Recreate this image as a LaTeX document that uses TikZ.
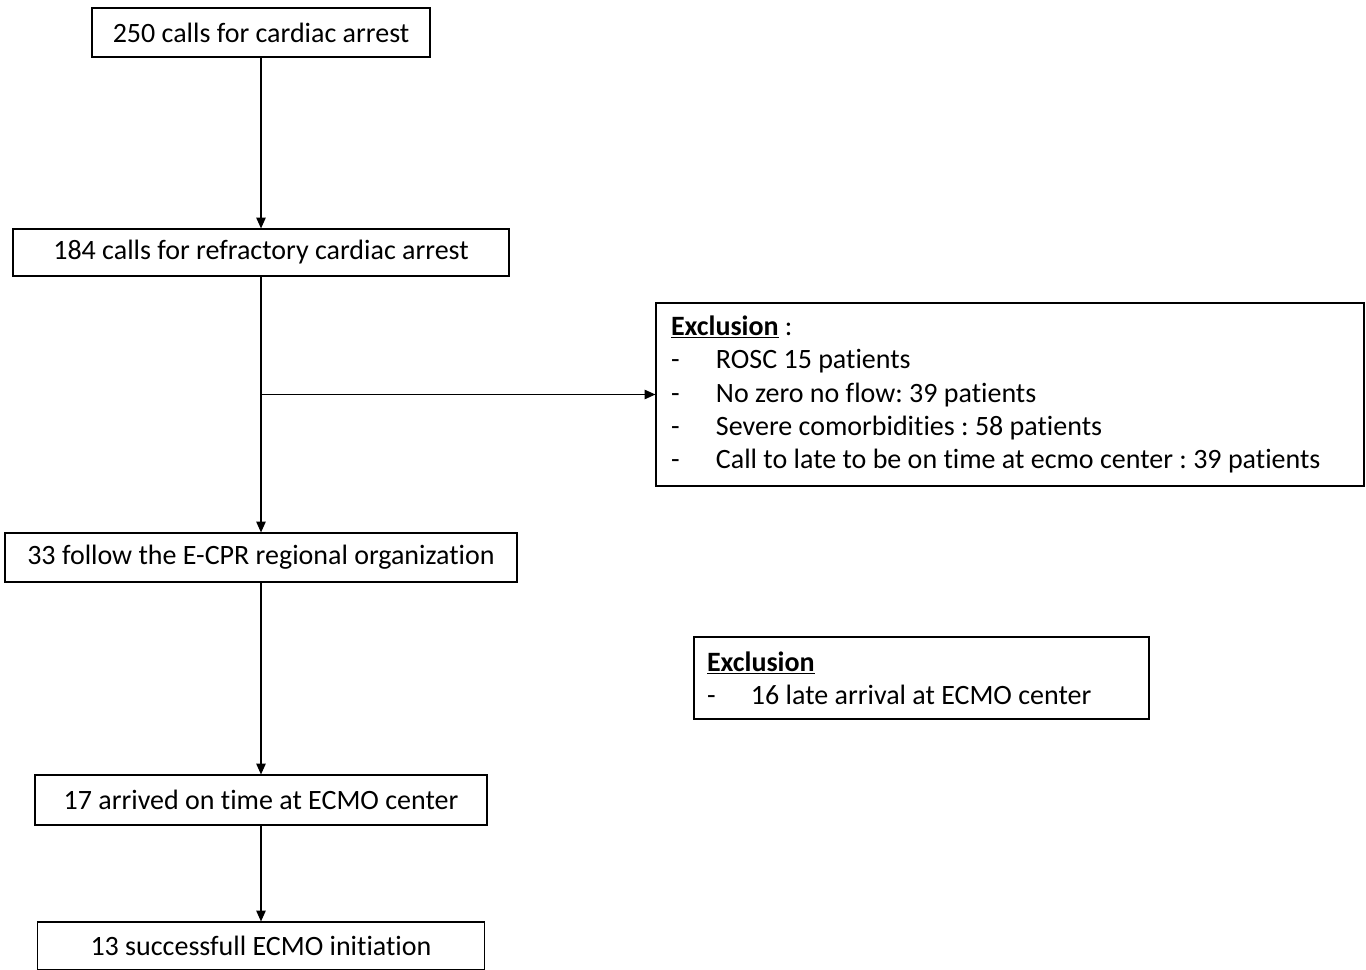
\documentclass[tikz,border=0pt]{standalone}
\usepackage{fontspec}
\setmainfont{Carlito}[Ligatures=NoCommon]
\usetikzlibrary{arrows.meta}
\frenchspacing

\begin{document}
\begin{tikzpicture}[x=0.75pt, y=-0.75pt,
  every node/.style={font=\fontsize{21pt}{25pt}\selectfont},
  box/.style={draw, line width=0.9pt, inner sep=0pt, align=center},
  excl/.style={draw, line width=0.9pt, inner ysep=0pt, align=flush left},
  arr/.style={line width=0.9pt, -{Triangle[length=8pt,width=7pt]}}]
  \useasboundingbox (0,0) rectangle (1366,970);

  % Etapes
  \node[box, minimum width=253.5pt, minimum height=36.75pt] (calls) at (261,32.5) {250 calls for cardiac arrest};
  \node[box, minimum width=372pt, minimum height=35.25pt] (refractory) at (261,252.5) {184 calls for refractory cardiac arrest};
  \node[box, minimum width=384pt, minimum height=36.75pt] (ecpr) at (261,557.5) {33 follow the E-CPR regional organization};
  \node[box, minimum width=339pt, minimum height=37.5pt] (arrived) at (261,800) {17 arrived on time at ECMO center};
  \node[box, minimum width=335.25pt, minimum height=36pt] (success) at (261,946) {13 successfull ECMO initiation};

  % Exclusions
  \node[excl, inner xsep=11.25pt, text width=508.5pt, minimum height=137.25pt] (exclA) at (1010,394.5)
    {\underline{\textbf{Exclusion}} :\\
     \makebox[33.75pt][l]{-}ROSC 15 patients\\
     \makebox[33.75pt][l]{-}No zero no flow: 39 patients\\
     \makebox[33.75pt][l]{-}Severe comorbidities : 58 patients\\
     \makebox[33.75pt][l]{-}Call to late to be on time at ecmo center : 39 patients};
  \node[excl, inner xsep=9.75pt, text width=321.75pt, minimum height=61.5pt] (exclB) at (921.5,678)
    {\underline{\textbf{Exclusion}}\\
     \makebox[33pt][l]{-}16 late arrival at ECMO center};

  % Fleches
  \draw[arr] (calls.south) -- (calls.south |- refractory.north);
  \draw[arr] (refractory.south) -- (refractory.south |- ecpr.north);
  \draw[arr] (ecpr.south) -- (ecpr.south |- arrived.north);
  \draw[arr] (arrived.south) -- (arrived.south |- success.north);
  \coordinate (branch) at (refractory.south |- exclA.west);
  \draw[arr] (branch) -- (exclA.west);
\end{tikzpicture}
\end{document}
